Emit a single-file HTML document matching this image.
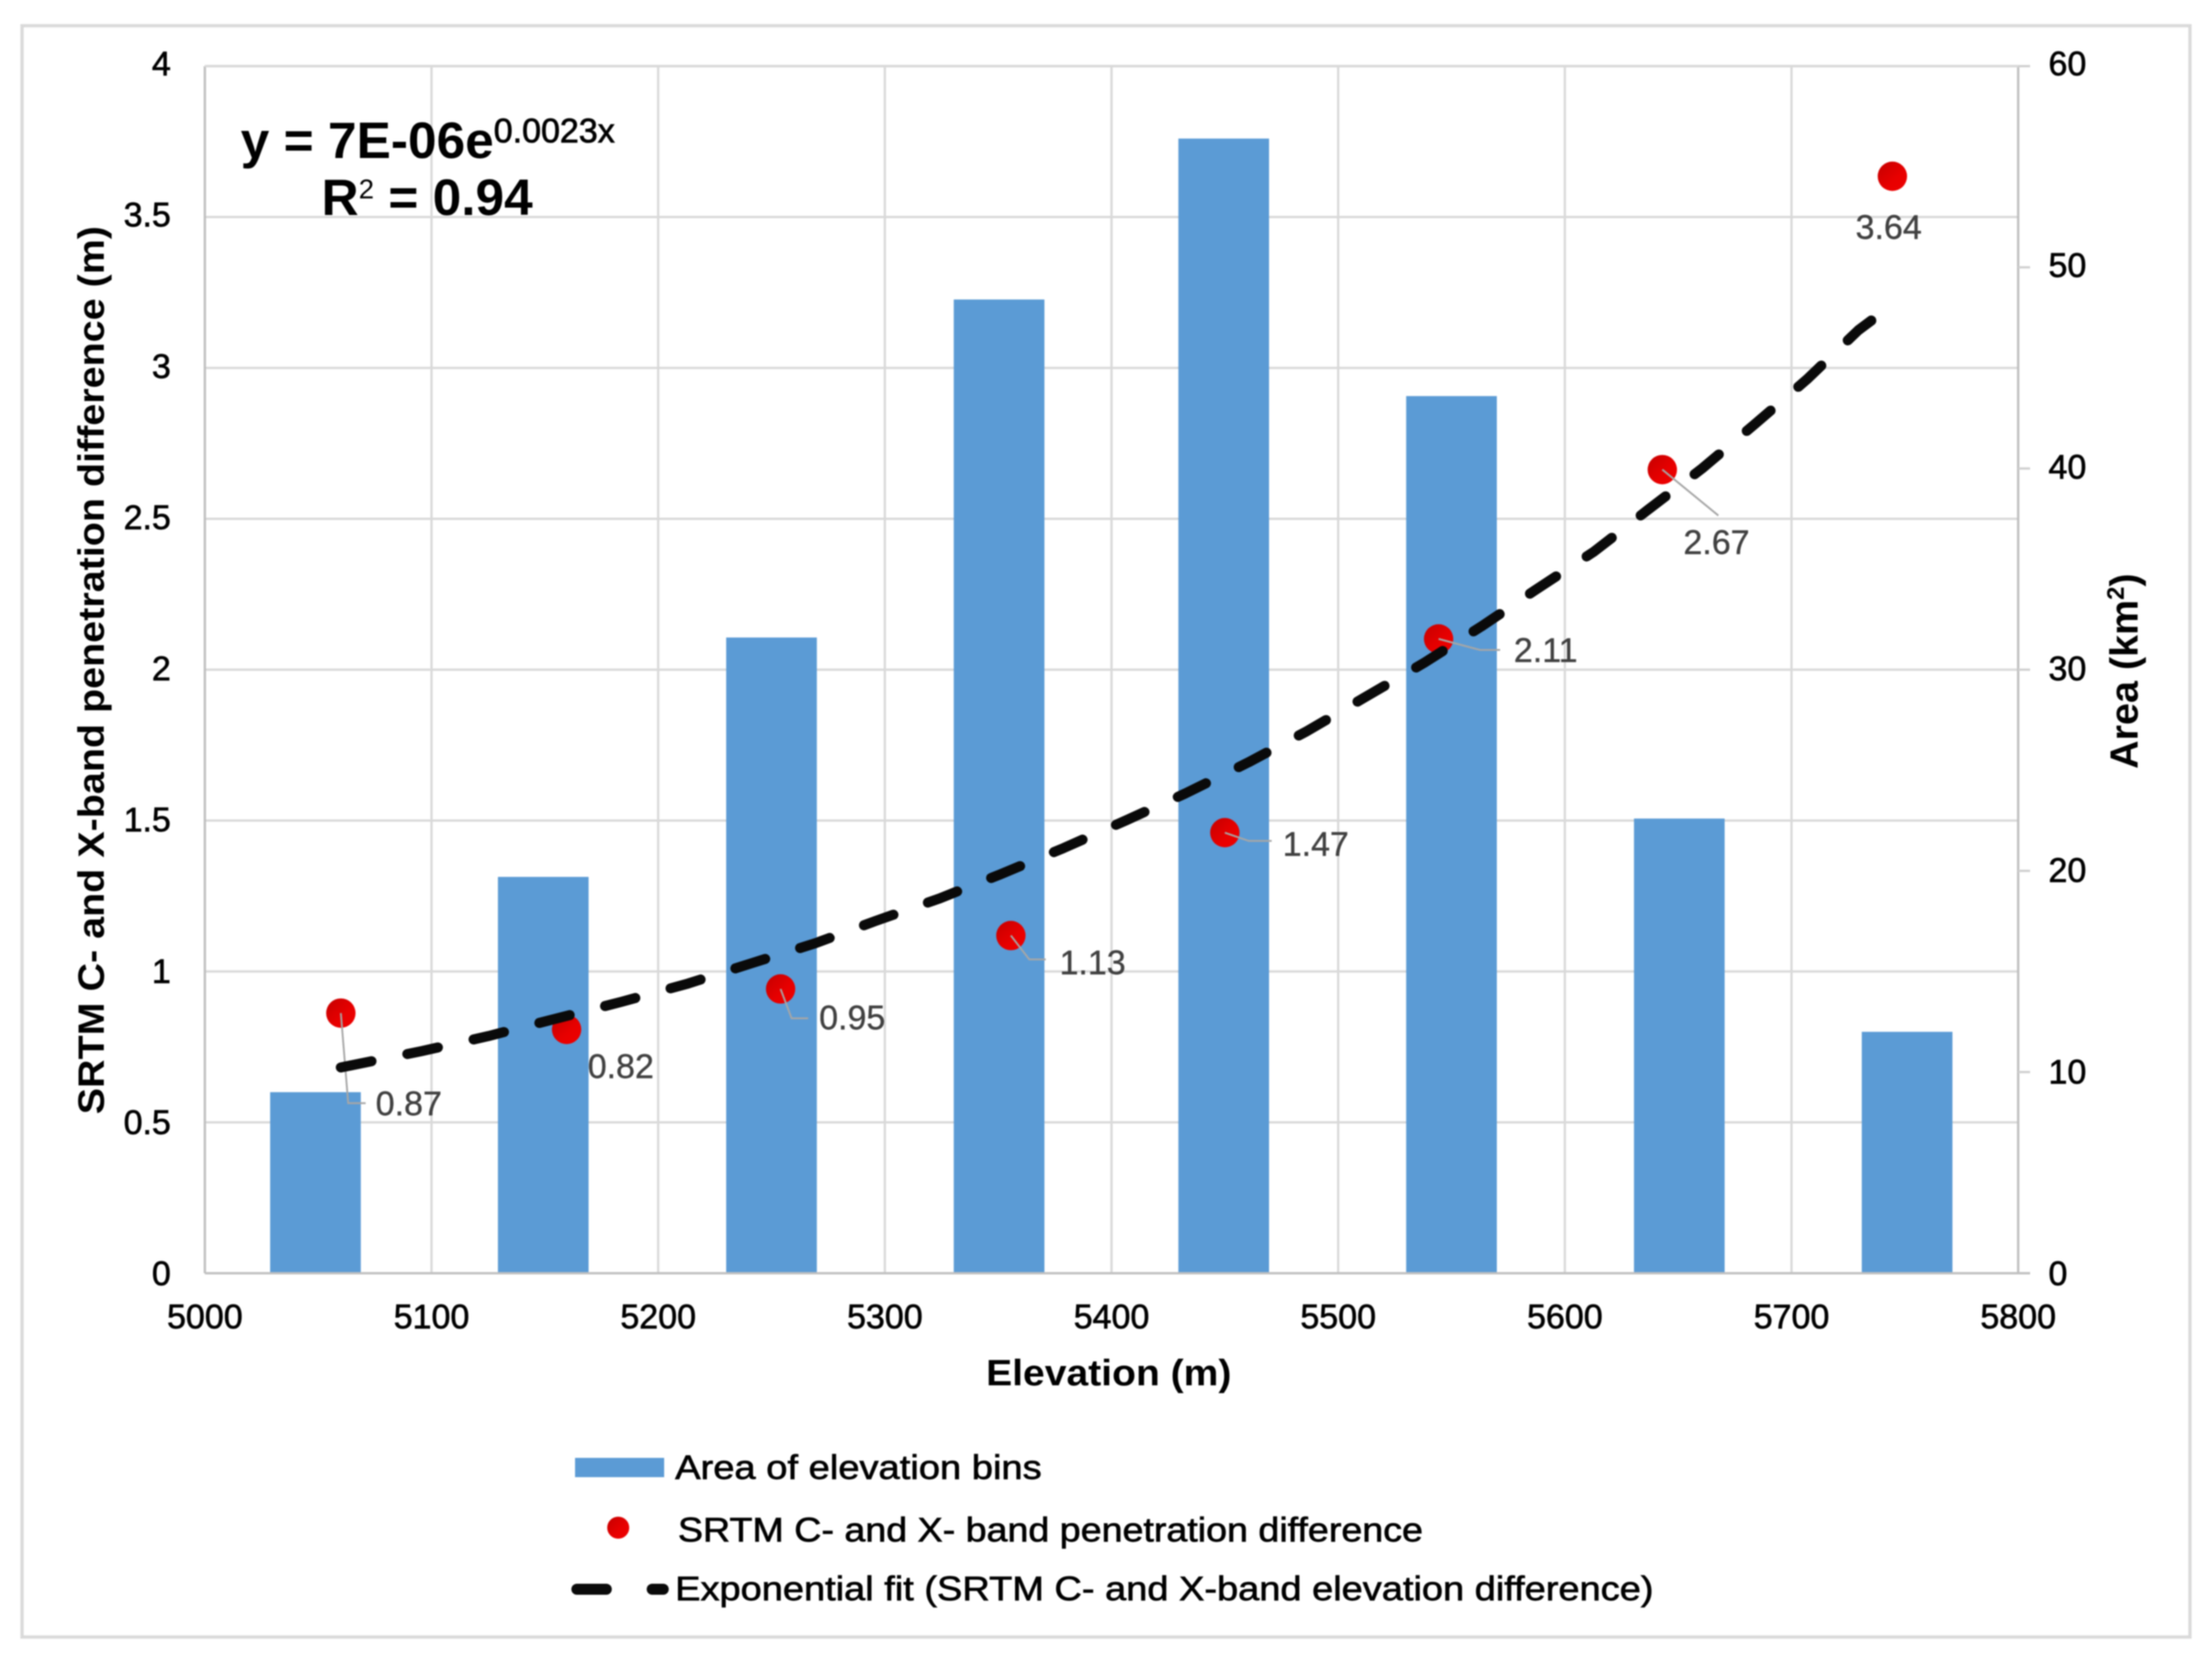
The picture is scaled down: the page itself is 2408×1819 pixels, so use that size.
<!DOCTYPE html>
<html lang="en">
<head>
<meta charset="utf-8">
<title>Penetration difference and area by elevation</title>
<style>
  html, body { margin: 0; padding: 0; background: #fff; width: 2408px; height: 1819px; overflow: hidden; }
  svg { display: block; }
  text { font-family: "Liberation Sans", Arial, sans-serif; fill: #000; }
  .tick { font-size: 37px; stroke: #000; stroke-width: 0.7px; }
  .dl { font-size: 37px; fill: #404040; stroke: #404040; stroke-width: 0.4px; }
  .title { font-weight: bold; }
  .legend { font-size: 37px; stroke: #000; stroke-width: 0.7px; }
</style>
</head>
<body>
<svg id="chart" xmlns="http://www.w3.org/2000/svg" width="2408" height="1819" viewBox="0 0 2408 1819">
  <defs>
    <linearGradient id="dotFill" x1="0" y1="0" x2="1" y2="1">
      <stop offset="0" stop-color="#c40000"/>
      <stop offset="0.6" stop-color="#e80000"/>
      <stop offset="1" stop-color="#ee0000"/>
    </linearGradient>
  </defs>
  <rect x="0" y="0" width="2408" height="1819" fill="#ffffff"/>
  <g id="root" style="filter: blur(0.7px)">
    <rect x="24" y="28" width="2360" height="1754" fill="#ffffff" stroke="#d9d9d9" stroke-width="3.5"/>
    <g id="grid"></g>
    <g id="bars"></g>
    <g id="axes"></g>
    <g id="points"></g>
    <g id="leaders"></g>
    <g id="trend"></g>
    <g id="labels"></g>
    <g id="ticks"></g>

    <text class="title" x="1207" y="1508" font-size="40" text-anchor="middle" textLength="267" lengthAdjust="spacingAndGlyphs">Elevation (m)</text>
    <text class="title" transform="translate(113,1213) rotate(-90)" font-size="40" textLength="967" lengthAdjust="spacingAndGlyphs">SRTM C- and X-band penetration difference (m)</text>
    <text class="title" transform="translate(2327,837) rotate(-90)" font-size="43">Area (km<tspan font-size="26" dy="-15">2</tspan><tspan dy="15">)</tspan></text>

    <text class="title" x="262" y="172" font-size="56">y = 7E-06e<tspan font-size="37" dy="-17" font-weight="normal" stroke="#000" stroke-width="0.8">0.0023x</tspan></text>
    <text class="title" x="350" y="234" font-size="56">R<tspan font-size="30" dy="-18" font-weight="normal">2</tspan><tspan dy="18"> = 0.94</tspan></text>

    <g>
      <rect x="626" y="1587" width="97" height="21" fill="#5b9bd5"/>
      <text class="legend" x="735" y="1610" textLength="399" lengthAdjust="spacingAndGlyphs">Area of elevation bins</text>
      <circle cx="673" cy="1663" r="12" fill="url(#dotFill)"/>
      <text class="legend" x="738" y="1678" textLength="811" lengthAdjust="spacingAndGlyphs">SRTM C- and X- band penetration difference</text>
      <line x1="628" y1="1730" x2="660" y2="1730" stroke="#0a0a0a" stroke-width="12" stroke-linecap="round"/>
      <line x1="710" y1="1730" x2="722" y2="1730" stroke="#0a0a0a" stroke-width="12" stroke-linecap="round"/>
      <text class="legend" x="735" y="1742" textLength="1065" lengthAdjust="spacingAndGlyphs">Exponential fit (SRTM C- and X-band elevation difference)</text>
    </g>
  </g>
</svg>
<script>
const xTicks = [5000, 5100, 5200, 5300, 5400, 5500, 5600, 5700, 5800];
const leftTicks = [0, 0.5, 1, 1.5, 2, 2.5, 3, 3.5, 4];
const rightTicks = [0, 10, 20, 30, 40, 50, 60];

const binElevation = [5048.8, 5149.3, 5250, 5350.4, 5449.5, 5550, 5650.5, 5751];
const binArea = [9.0, 19.7, 31.6, 48.4, 56.4, 43.6, 22.6, 12.0];

const pointElevation = [5060, 5159.6, 5254, 5355.6, 5450, 5544.3, 5643, 5744.5];
const pointDifference = [0.862, 0.808, 0.942, 1.119, 1.46, 2.102, 2.663, 3.635];
const pointLabels = ['0.87', '0.82', '0.95', '1.13', '1.47', '2.11', '2.67', '3.64'];

const fitElevation = [5060, 5095.6, 5125.2, 5154, 5183.6, 5213.2, 5241.5, 5269.5, 5295.8, 5323.8, 5351, 5378.9, 5406.5, 5432.6, 5460.4, 5485.9, 5511.9, 5538.2, 5563.1, 5587.2, 5612.8, 5636.7, 5660.6, 5683.7, 5706.8, 5729.5, 5735.2];
const fitDifference = [0.682, 0.736, 0.786, 0.842, 0.899, 0.96, 1.028, 1.094, 1.167, 1.241, 1.322, 1.409, 1.501, 1.59, 1.693, 1.795, 1.909, 2.024, 2.143, 2.265, 2.391, 2.53, 2.667, 2.813, 2.962, 3.125, 3.157];

const NS = 'http://www.w3.org/2000/svg';
const plotLeft = 223, plotRight = 2197, plotTop = 72, plotBottom = 1386;
const xMin = xTicks[0], xMax = xTicks[xTicks.length - 1];
const leftMax = leftTicks[leftTicks.length - 1];
const rightMax = rightTicks[rightTicks.length - 1];

function xScale(v) { return plotLeft + (v - xMin) / (xMax - xMin) * (plotRight - plotLeft); }
function leftScale(v) { return plotBottom - v / leftMax * (plotBottom - plotTop); }
function rightScale(v) { return plotBottom - v / rightMax * (plotBottom - plotTop); }
function make(tag, attrs, parentId) {
  const el = document.createElementNS(NS, tag);
  for (const k in attrs) el.setAttribute(k, attrs[k]);
  document.getElementById(parentId).appendChild(el);
  return el;
}

xTicks.forEach(function (t) {
  if (t === xMin || t === xMax) return;
  const el = make('line', { x1: xScale(t), x2: xScale(t), y1: plotTop, y2: plotBottom, stroke: '#d9d9d9', 'stroke-width': 2.5 }, 'grid');
  
  
});
leftTicks.forEach(function (t) {
  if (t === 0) return;
  const el = make('line', { x1: plotLeft, x2: plotRight, y1: leftScale(t), y2: leftScale(t), stroke: '#d9d9d9', 'stroke-width': 2.5 }, 'grid');
  
  
});

const barWidth = xScale(40) - xScale(0);
binArea.forEach(function (v, i) {
  const top = rightScale(v);
  const el = make('rect', { x: xScale(binElevation[i]) - barWidth / 2, y: top, width: barWidth, height: plotBottom - top, fill: '#5b9bd5' }, 'bars');
  
  
});

const leftAxis = make('line', { x1: plotLeft, x2: plotLeft, y1: plotTop, y2: plotBottom, stroke: '#bfbfbf', 'stroke-width': 2.5 }, 'axes');


const rightAxis = make('line', { x1: plotRight, x2: plotRight, y1: plotTop, y2: plotBottom, stroke: '#bfbfbf', 'stroke-width': 2.5 }, 'axes');


const bottomAxis = make('line', { x1: plotLeft, x2: plotRight, y1: plotBottom, y2: plotBottom, stroke: '#bfbfbf', 'stroke-width': 2.5 }, 'axes');


rightTicks.forEach(function (t) {
  const el = make('line', { x1: plotRight, x2: plotRight + 13, y1: rightScale(t), y2: rightScale(t), stroke: t === 0 ? '#bfbfbf' : '#d0d0d0', 'stroke-width': 2.5 }, 'axes');
  
  
});
const topEdge = make('line', { x1: plotLeft, x2: plotRight, y1: plotTop, y2: plotTop, stroke: '#d9d9d9', 'stroke-width': 2.5 }, 'axes');



const labelOffsets = [
  [38, 98], [23, 40], [42, 31], [53, 29], [63, 12], [82, 12], [23, 79], [-40, 55]
];
const leaderBends = [
  [[8, 98], [27, 98]], [], [[12, 32], [30, 32]], [[20, 26], [38, 26]],
  [[26, 9], [51, 9]], [[45, 12], [67, 12]], [[61, 50]], []
];

pointDifference.forEach(function (v, i) {
  const px = xScale(pointElevation[i]);
  const py = leftScale(v);
  const dot = make('circle', { cx: px, cy: py, r: 16, fill: 'url(#dotFill)' }, 'points');
  
  

  const bends = leaderBends[i];
  if (bends.length) {
    const pts = [[px, py]].concat(bends.map(function (b) { return [px + b[0], py + b[1]]; }));
    const leader = make('polyline', { points: pts.map(function (p) { return p.join(','); }).join(' '), fill: 'none', stroke: '#a6a6a6', 'stroke-width': 2 }, 'leaders');
    
    
  }

  const off = labelOffsets[i];
  const label = make('text', { x: px + off[0], y: py + off[1] + 13, class: 'dl' }, 'labels');
  label.textContent = pointLabels[i];
  
  
});

const fitPoints = fitElevation.map(function (x, i) {
  return xScale(x) + ',' + leftScale(fitDifference[i]);
}).join(' ');
const fitLine = make('polyline', { points: fitPoints, fill: 'none', stroke: '#0a0a0a', 'stroke-width': 11, 'stroke-linecap': 'round', 'stroke-linejoin': 'round', 'stroke-dasharray': '34 39.85' }, 'trend');



xTicks.forEach(function (t) {
  const el = make('text', { x: xScale(t), y: 1446, 'text-anchor': 'middle', class: 'tick' }, 'ticks');
  el.textContent = String(t);
  
  
});
leftTicks.forEach(function (t) {
  const el = make('text', { x: 186, y: leftScale(t) + 13 - 3 * t / leftMax, 'text-anchor': 'end', class: 'tick' }, 'ticks');
  el.textContent = String(t);
  
  
});
rightTicks.forEach(function (t) {
  const el = make('text', { x: 2230, y: rightScale(t) + 13 - 3 * t / rightMax, class: 'tick' }, 'ticks');
  el.textContent = String(t);
  
  
});
</script>
</body>
</html>
